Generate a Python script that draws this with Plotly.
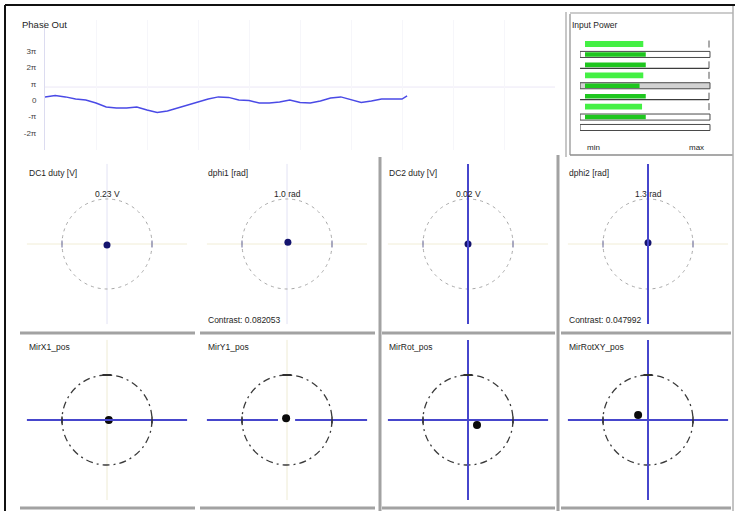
import plotly.graph_objects as go

W, H = 735, 511

# ---------------- data ----------------
# Phase Out trace (sample index, phase in units of pi)
phase_t = [0, 2, 4, 6, 8, 10, 12, 14, 16, 18, 20, 22, 24, 26, 28, 30, 32, 34, 36,
           38, 40, 42, 44, 46, 48, 50, 52, 54, 56, 58, 60, 62, 64, 66, 68, 70, 71]
phase_vals = [0.20, 0.29, 0.20, 0.07, 0.01, -0.17, -0.42, -0.48, -0.48, -0.42,
              -0.60, -0.75, -0.66, -0.48, -0.29, -0.14, 0.07, 0.20, 0.17, 0.01,
              -0.02, -0.17, -0.17, -0.11, 0.01, -0.14, -0.17, -0.05, 0.13, 0.20,
              0.04, -0.14, -0.05, 0.07, 0.07, 0.07, 0.26]
phase_tickvals = [3, 2, 1, 0, -1, -2]
phase_ticktext = ["3π", "2π", "π", "0", "-π", "-2π"]
phase_ref = 0.80

# Input Power rows (fraction of min..max)
power_rows = [0, 1, 2, 3, 4, 5, 6, 7, 8]
power_values = [0.47, 0.49, 0.49, 0.47, 0.44, 0.49, 0.46, 0.49, 0.0]

# Upper row of target panels
mid_titles = ["DC1 duty [V]", "dphi1 [rad]", "DC2 duty [V]", "dphi2 [rad]"]
mid_readouts = ["0.23 V", "1.0 rad", "0.02 V", "1.3 rad"]
mid_dot_x = [0.0, 0.02, 0.0, 0.0]
mid_dot_y = [-0.02, 0.04, 0.0, 0.03]
contrast_text = ["", "Contrast: 0.082053", "", "Contrast: 0.047992"]

# Lower row of target panels
bot_titles = ["MirX1_pos", "MirY1_pos", "MirRot_pos", "MirRotXY_pos"]
bot_dot_x = [0.04, -0.02, 0.20, -0.22]
bot_dot_y = [0.0, 0.04, -0.11, 0.11]

# ---------------- layout helpers ----------------
FONT = "Liberation Sans, Arial, sans-serif"
TXT = "#1e1e1e"
BLUE = "#4646cc"


def fx(px):
    return px / W


def fy(py):
    return 1 - py / H


def dom_x(a, b):
    return [fx(a), fx(b)]


def dom_y(top, bottom):
    return [fy(bottom), fy(top)]


fig = go.Figure()
shapes = []
annotations = []


def label(px, py, text, size=9, anchor="left", color=TXT):
    annotations.append(dict(x=fx(px), y=fy(py), xref="paper", yref="paper",
                            text=text, showarrow=False, xanchor=anchor,
                            yanchor="middle", font=dict(family=FONT, size=size, color=color)))


def pline(x0, y0, x1, y1, color, width):
    shapes.append(dict(type="line", xref="paper", yref="paper",
                       x0=fx(x0), y0=fy(y0), x1=fx(x1), y1=fy(y1),
                       line=dict(color=color, width=width), layer="above"))


# ---------------- Phase Out ----------------
fig.add_trace(go.Scatter(x=phase_t, y=phase_vals, mode="lines",
                         line=dict(color="#4a4ae6", width=1.5, shape="linear"),
                         xaxis="x", yaxis="y", hoverinfo="skip"))
shapes.append(dict(type="line", xref="x", yref="y", x0=0, x1=100,
                   y0=phase_ref, y1=phase_ref, line=dict(color="#ebe7f6", width=1),
                   layer="below"))
label(20, 25, "Phase Out", size=9.5)

layout_axes = dict(
    xaxis=dict(domain=dom_x(45, 555), range=[0, 100], anchor="y",
               showgrid=True, gridcolor="#f6f6fa", dtick=10,
               showticklabels=False, zeroline=False, showline=False, fixedrange=True),
    yaxis=dict(domain=dom_y(20, 150), range=[-3.04, 4.89], anchor="x",
               tickvals=phase_tickvals, ticktext=phase_ticktext,
               showgrid=False, zeroline=False, showline=True,
               linecolor="#dcdcf0", linewidth=1, ticks="",
               ticklabelstandoff=6,
               tickfont=dict(family=FONT, size=8, color="#444"), fixedrange=True),
)

# ---------------- Input Power ----------------
kinds = ["bar", "frame", "under", "bar", "grey", "under", "bar", "frame", "empty"]
frame_rows = [r for r, k in zip(power_rows, kinds) if k in ("frame", "grey", "empty")]
frame_fill = ["#d2d2d2" if kinds[r] == "grey" else "white" for r in frame_rows]
fig.add_trace(go.Bar(orientation="h", y=frame_rows, x=[1.048] * len(frame_rows),
                     base=-0.04, width=0.58,
                     marker=dict(color=frame_fill, line=dict(color="#4a4a4a", width=1)),
                     xaxis="x2", yaxis="y2", hoverinfo="skip"))
bar_rows = [r for r, v in zip(power_rows, power_values) if v > 0]
bar_vals = [power_values[r] for r in bar_rows]
bar_col = ["#44f044" if kinds[r] == "bar" else "#1ec61e" for r in bar_rows]
bar_w = [0.56 if kinds[r] == "bar" else 0.44 for r in bar_rows]
fig.add_trace(go.Bar(orientation="h", y=bar_rows, x=bar_vals, base=0,
                     width=bar_w, marker=dict(color=bar_col, line=dict(width=0)),
                     xaxis="x2", yaxis="y2", hoverinfo="skip"))
for r, k in zip(power_rows, kinds):
    if k == "under":
        shapes.append(dict(type="line", xref="x2", yref="y2", x0=-0.04, x1=1.0,
                           y0=r + 0.33, y1=r + 0.33,
                           line=dict(color="#3c3c3c", width=1.2)))
tick_rows = [r for r, k in zip(power_rows, kinds) if k in ("bar", "under")]
fig.add_trace(go.Scatter(x=[1.0] * len(tick_rows), y=tick_rows, mode="markers",
                         marker=dict(symbol="line-ns", size=5,
                                     line=dict(color="#555", width=1)),
                         xaxis="x2", yaxis="y2", hoverinfo="skip"))
layout_axes["xaxis2"] = dict(domain=dom_x(580, 712), range=[-0.0403, 1.0242],
                             anchor="y2", visible=False, fixedrange=True)
layout_axes["yaxis2"] = dict(domain=dom_y(38.8, 132.7), range=[8.5, -0.5],
                             anchor="x2", visible=False, fixedrange=True)
label(570, 25, "Input Power", size=8.5)
label(585, 147, "min", size=8)
label(706, 147, "max", size=8, anchor="right")

# ---------------- target panels ----------------
panel_cx = [107, 287, 468, 648]
title_x = [27, 206, 387, 567]
row_cy = [244, 420]
SCALE = 45.0  # pixels per unit radius
HALF_W, HALF_H = 84, 84

mid_v_active = [False, False, True, True]
mid_h_active = [False, False, False, False]
bot_v_active = [False, False, True, True]
bot_h_active = [True, True, True, True]
bot_h_gap = [None, (-0.2, 0.18), None, None]

axis_n = 3
for row in range(2):
    cy = row_cy[row]
    for i in range(4):
        cx = panel_cx[i]
        xa, ya = f"x{axis_n}", f"y{axis_n}"
        layout_axes[f"xaxis{axis_n}"] = dict(domain=dom_x(cx - HALF_W, cx + HALF_W),
                                             range=[-HALF_W / SCALE, HALF_W / SCALE],
                                             anchor=ya, visible=False, fixedrange=True)
        layout_axes[f"yaxis{axis_n}"] = dict(domain=dom_y(cy - HALF_H, cy + HALF_H),
                                             range=[-HALF_H / SCALE, HALF_H / SCALE],
                                             anchor=xa, visible=False, fixedrange=True)
        L = 1.78
        if row == 0:
            v_on, h_on, gap = mid_v_active[i], mid_h_active[i], None
            faint_v, faint_h = "#e2e2f4", "#f1edd6"
            circ = dict(color="#a8a8a8", width=1, dash="3px,4px")
            tick_col = "#9a9ab8"
        else:
            v_on, h_on, gap = bot_v_active[i], bot_h_active[i], bot_h_gap[i]
            faint_v, faint_h = "#eeebd4", "#eeebd4"
            circ = dict(color="#3a3a3a", width=1.3, dash="7px,4px,2px,4px")
            tick_col = "#303030"

        # faint crosshair below, active (blue) crosshair above
        def seg(x0, y0, x1, y1, on, faint):
            shapes.append(dict(type="line", xref=xa, yref=ya, x0=x0, y0=y0, x1=x1, y1=y1,
                               line=dict(color=BLUE if on else faint, width=2 if on else 1),
                               layer="above" if on else "below"))

        if gap:
            seg(-L, 0, gap[0], 0, h_on, faint_h)
            seg(gap[1], 0, L, 0, h_on, faint_h)
        else:
            seg(-L, 0, L, 0, h_on, faint_h)
        seg(0, -L, 0, L, v_on, faint_v)

        shapes.append(dict(type="circle", xref=xa, yref=ya, x0=-1, x1=1, y0=-1, y1=1,
                           line=circ, layer="below"))
        # cardinal tick marks on the ring
        for sx in (-1, 1):
            shapes.append(dict(type="line", xref=xa, yref=ya, x0=sx, x1=sx,
                               y0=-0.08, y1=0.08, line=dict(color=tick_col, width=1.5)))
        if row == 1:
            shapes.append(dict(type="line", xref=xa, yref=ya, x0=-0.1, x1=0.1,
                               y0=1, y1=1, line=dict(color=tick_col, width=2)))

        if row == 0:
            dx, dy = mid_dot_x[i], mid_dot_y[i]
            mcol, msize = "#14146e", 7
            label(title_x[i], 173, mid_titles[i], size=8.5)
            label(cx, 194, mid_readouts[i], size=8.5, anchor="center")
            if contrast_text[i]:
                label(title_x[i], 320, contrast_text[i], size=8.5)
        else:
            dx, dy = bot_dot_x[i], bot_dot_y[i]
            mcol, msize = "#0a0a0a", 8
            label(title_x[i], 347, bot_titles[i], size=8.5)
        fig.add_trace(go.Scatter(x=[dx], y=[dy], mode="markers",
                                 marker=dict(color=mcol, size=msize),
                                 xaxis=xa, yaxis=ya, hoverinfo="skip"))
        axis_n += 1

# ---------------- frame and separators ----------------
GREY = "#a2a2a2"
for yy in (333, 508):
    for a, b in ((20, 195), (200, 375), (382, 555), (561, 731)):
        pline(a, yy, b, yy, GREY, 3)
pline(380, 157, 380, 511, GREY, 3)
pline(558, 155, 558, 511, GREY, 3)
# Input Power box (double border)
pline(566, 12, 566, 157, "#b4b4b4", 1.5)
pline(570, 14, 570, 155, "#8c8c8c", 1.2)
pline(570, 13, 733, 13, "#9a9a9a", 1.2)
pline(570, 155, 733, 155, "#8c8c8c", 1.5)
pline(733, 5, 733, 511, "#b0b0b0", 1.5)
# outer window border
pline(5, 5, 735, 5, "#111111", 2)
pline(5, 5, 5, 511, "#111111", 2)

fig.update_layout(
    width=W, height=H, margin=dict(l=0, r=0, t=0, b=0),
    paper_bgcolor="white", plot_bgcolor="rgba(0,0,0,0)",
    showlegend=False, barmode="overlay",
    shapes=shapes, annotations=annotations,
    **layout_axes,
)

fig.write_html("out.html", config={"displayModeBar": False})
